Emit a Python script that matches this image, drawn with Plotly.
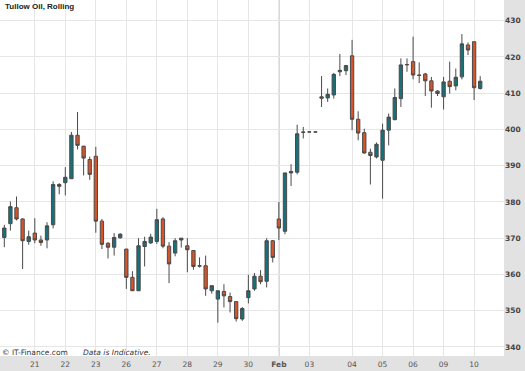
import plotly.graph_objects as go

# Candle index (5 bars per trading day, Feb 03 has 7)
idx = list(range(79))
opens = [370.2, 374.0, 378.4, 375.3, 369.1, 371.4, 369.5, 369.5, 373.7, 384.8,
         385.3, 386.4, 398.4, 395.4, 391.7, 392.6, 374.7, 368.6, 367.5, 370.1,
         367.0, 359.2, 355.5, 367.7, 368.7, 369.1, 375.3, 367.8, 365.9, 369.5,
         367.9, 366.6, 362.4, 362.4, 355.5, 353.2, 355.3, 353.9, 352.5, 347.7,
         353.6, 356.0, 359.5, 358.1, 369.3, 375.3, 371.9, 388.0, 388.2, 399.3,
         399.3, 399.3, 409.0, 408.7, 409.5, 415.9, 416.2, 420.3, 402.8, 399.1,
         393.7, 392.4, 391.5, 399.8, 402.7, 408.5, 417.8, 418.7, 415.0, 415.3,
         413.4, 410.6, 409.0, 413.3, 412.0, 414.5, 423.3, 424.2, 411.3]
highs = [373.7, 380.1, 381.5, 375.5, 372.1, 375.5, 370.7, 374.4, 385.7, 385.2,
         389.6, 399.3, 404.8, 395.4, 392.5, 395.2, 375.3, 368.9, 371.4, 371.4,
         367.0, 360.9, 370.0, 370.4, 371.2, 378.1, 375.8, 368.9, 370.0, 370.0,
         370.0, 366.6, 364.7, 365.2, 356.9, 355.5, 357.3, 355.0, 352.5, 351.0,
         359.9, 360.4, 361.2, 370.0, 369.5, 380.0, 388.0, 390.4, 401.3, 400.7,
         399.3, 399.3, 414.7, 411.3, 415.6, 420.8, 417.8, 424.7, 405.0, 400.2,
         394.7, 396.4, 401.6, 404.4, 411.3, 419.6, 419.6, 425.6, 418.5, 415.6,
         414.5, 410.8, 414.5, 418.7, 416.8, 426.3, 424.0, 424.2, 414.7]
lows = [367.5, 372.1, 374.9, 361.5, 368.2, 368.6, 367.9, 367.2, 372.7, 382.1,
        381.8, 386.4, 394.5, 387.3, 386.1, 371.5, 367.0, 364.4, 365.2, 369.9,
        356.0, 355.5, 355.5, 362.2, 368.4, 368.4, 367.2, 357.6, 365.0, 367.4,
        360.6, 361.3, 361.9, 354.1, 354.7, 346.7, 350.9, 349.5, 347.0, 347.2,
        352.0, 355.5, 357.3, 356.4, 363.3, 369.5, 371.1, 384.4, 387.6, 397.5,
        399.3, 399.3, 406.2, 407.6, 408.5, 414.7, 415.0, 399.8, 397.0, 393.3,
        384.8, 392.0, 380.9, 395.6, 402.5, 406.2, 415.9, 413.8, 412.8, 409.2,
        406.0, 409.2, 405.5, 409.9, 410.8, 413.8, 420.5, 408.1, 411.0]
closes = [372.8, 378.7, 375.3, 369.3, 370.4, 369.5, 368.8, 373.4, 384.8, 384.3,
          386.8, 398.4, 395.6, 392.1, 387.6, 374.7, 368.3, 367.5, 370.2, 371.1,
          359.2, 355.5, 367.9, 369.1, 370.3, 375.1, 367.8, 362.9, 369.3, 370.0,
          366.8, 362.2, 362.3, 356.0, 356.9, 355.5, 354.1, 352.5, 347.8, 350.6,
          355.5, 359.5, 358.0, 369.3, 364.7, 372.8, 388.0, 388.4, 398.8, 399.2,
          399.3, 399.3, 408.6, 409.7, 415.2, 416.3, 417.6, 402.8, 399.0, 393.5,
          392.8, 395.9, 399.8, 403.4, 408.8, 417.8, 417.9, 415.0, 414.9, 413.4,
          410.6, 409.9, 413.1, 411.8, 414.4, 423.6, 421.9, 411.5, 413.3]

tick_idx = [5, 10, 15, 20, 25, 30, 35, 40, 45, 50, 57, 62, 67, 72, 77]
tick_text = ['21', '22', '23', '26', '27', '28', '29', '30', '<b>Feb</b>',
             '03', '04', '05', '06', '09', '10']
y_ticks = [340, 350, 360, 370, 380, 390, 400, 410, 420, 430]

TEAL = '#17707a'
ORANGE = '#d4552a'
EDGE = '#4a4a4a'

fig = go.Figure()
fig.add_trace(go.Candlestick(
    x=idx, open=opens, high=highs, low=lows, close=closes,
    increasing=dict(fillcolor=TEAL, line=dict(color=EDGE, width=1)),
    decreasing=dict(fillcolor=ORANGE, line=dict(color=EDGE, width=1)),
    whiskerwidth=0, hoverinfo='skip', showlegend=False,
))

fig.add_vline(x=tick_idx[8], line=dict(color='#9a9a9a', width=1), layer='below')

fig.update_layout(
    width=525, height=371,
    margin=dict(l=0, r=21, t=0, b=15),
    paper_bgcolor='#e2e2e2',
    plot_bgcolor='#ffffff',
    boxgap=0.22,
    xaxis=dict(
        range=[-0.705, 81.9], rangeslider=dict(visible=False),
        tickmode='array', tickvals=tick_idx, ticktext=tick_text,
        showgrid=True, gridcolor='#e6e6e6', gridwidth=1,
        zeroline=False, showline=False, ticks='',
        tickfont=dict(family='DejaVu Sans', size=7.5, color='#555555'),
        ticklabelstandoff=2,
    ),
    yaxis=dict(
        side='right', range=[337.5, 435.7],
        tickmode='array', tickvals=y_ticks,
        showgrid=True, gridcolor='#e6e6e6', gridwidth=1,
        zeroline=False, showline=False, ticks='',
        tickfont=dict(family='DejaVu Sans', size=7.5, color='#444444', weight='bold'),
    ),
    annotations=[
        dict(text='<b>Tullow Oil, Rolling</b>', xref='paper', yref='paper',
             x=0.005, y=1, xanchor='left', yanchor='top', yshift=0, showarrow=False,
             font=dict(family='Liberation Sans', size=8, color='#222222')),
        dict(text='© IT-Finance.com', xref='paper', yref='paper',
             x=0.0, y=0.009, xanchor='left', yanchor='middle', showarrow=False,
             font=dict(family='DejaVu Sans', size=7.5, color='#333333')),
        dict(text='<i>Data is Indicative.</i>', xref='paper', yref='paper',
             x=81 / 504, y=0.009, xanchor='left', yanchor='middle', showarrow=False,
             font=dict(family='DejaVu Sans', size=7.5, color='#333333')),
    ],
)

fig.write_html('out.html')
